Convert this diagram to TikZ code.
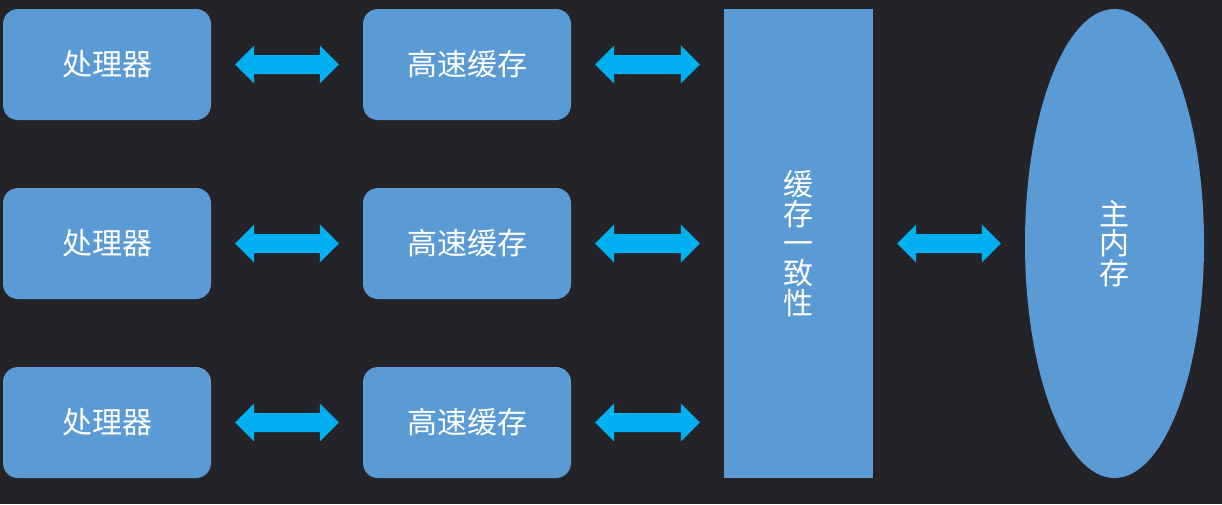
\documentclass[tikz,border=0pt]{standalone}
\usepackage{fontspec}
\newfontfamily\cjk{Noto Sans CJK SC}
\usetikzlibrary{shapes.geometric,calc}
\definecolor{bg}{HTML}{242428}
\definecolor{boxblue}{HTML}{5B9BD5}
\definecolor{arrowblue}{HTML}{00B0F0}
\newcommand\biarrow[2]{%
  \fill[arrowblue] let \p1=(#1.east), \p2=(#2.west) in
    (\x1+24pt,\y1) -- (\x1+43pt,\y1+19pt) -- (\x1+43pt,\y1+9.5pt)
    -- (\x2-43pt,\y1+9.5pt) -- (\x2-43pt,\y1+19pt) -- (\x2-24pt,\y1)
    -- (\x2-43pt,\y1-19pt) -- (\x2-43pt,\y1-9.5pt) -- (\x1+43pt,\y1-9.5pt)
    -- (\x1+43pt,\y1-19pt) -- cycle;}
\begin{document}
\begin{tikzpicture}[x=1pt,y=-1pt,
  txt/.style={text=white, font=\cjk\fontsize{30}{29.6}\selectfont, inner sep=0pt, align=center},
  blk/.style={txt, fill=boxblue, rounded corners=15pt, minimum width=208pt, minimum height=111pt},
  tall/.style={txt, fill=boxblue, minimum width=149pt, minimum height=469pt},
  mem/.style={txt, ellipse, fill=boxblue, minimum width=179pt, minimum height=469pt}]
\fill[bg] (0,0) rectangle (1222,504);
\useasboundingbox (0,0) rectangle (1222,504);
\node[blk] (p1) at (107,64.5) {处理器};
\node[blk] (p2) at (107,243.5) {处理器};
\node[blk] (p3) at (107,422.5) {处理器};
\node[blk] (c1) at (467,64.5) {高速缓存};
\node[blk] (c2) at (467,243.5) {高速缓存};
\node[blk] (c3) at (467,422.5) {高速缓存};
\node[tall] (coh) at (798.5,243.5) {缓\\存\\一\\致\\性};
\node[mem] (mm) at (1114.5,243.5) {主\\内\\存};
\biarrow{p1}{c1}
\biarrow{p2}{c2}
\biarrow{p3}{c3}
\biarrow{c1}{coh}
\biarrow{c2}{coh}
\biarrow{c3}{coh}
\biarrow{coh}{mm}
\end{tikzpicture}
\end{document}
